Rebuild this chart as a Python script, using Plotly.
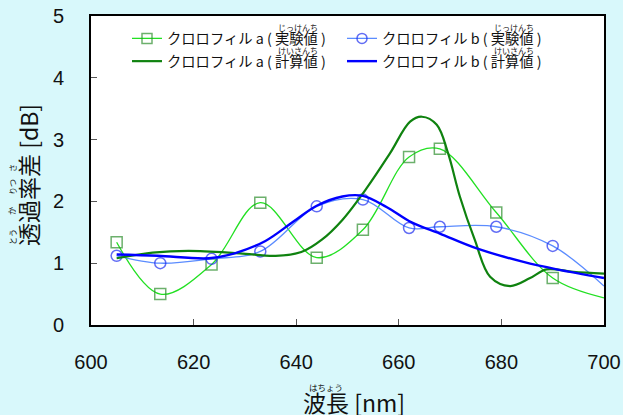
import plotly.graph_objects as go

# ---- data ----
wl_exp = [605, 613.5, 623.5, 633, 644, 653, 662, 668, 679, 690, 700]
chl_a_exp = [1.34, 0.50, 0.98, 1.98, 1.09, 1.54, 2.72, 2.85, 1.82, 0.76, 0.44]
chl_b_exp = [1.12, 1.00, 1.07, 1.19, 1.92, 2.03, 1.57, 1.59, 1.59, 1.28, 0.63]
marker_shown = [True] * 10 + [False]   # last point (700 nm) is the line end only

wl_calc_a = [605, 612, 619, 629, 636, 641, 645, 649, 653.7, 658.3, 662.2, 664.5,
             667.4, 669.6, 671.9, 674.8, 677.8, 681.7, 685.6, 688.8, 694, 700]
chl_a_calc = [1.08, 1.17, 1.20, 1.16, 1.12, 1.18, 1.38, 1.70, 2.21, 2.78, 3.29, 3.37,
              3.24, 2.78, 2.08, 1.38, 0.78, 0.63, 0.76, 0.90, 0.86, 0.83]

wl_calc_b = [605, 613, 623, 628, 634, 639.4, 644, 649, 653, 657.6, 662.5, 668,
             675.2, 684.3, 690.8, 700]
chl_b_calc = [1.14, 1.12, 1.08, 1.16, 1.36, 1.67, 1.93, 2.08, 2.09, 1.91, 1.66, 1.48,
              1.24, 1.02, 0.90, 0.76]

x_ticks = [600, 620, 640, 660, 680, 700]
y_ticks = [0, 1, 2, 3, 4, 5]

names = ["クロロフィル a ( 実験値 )", "クロロフィル b ( 実験値 )",
         "クロロフィル a ( 計算値 )", "クロロフィル b ( 計算値 )"]

JP = "Noto Sans CJK JP"
LAT = "Liberation Sans"

# plot area geometry in pixels (for annotations)
W, H = 623, 415
L, R, T, B = 91, 604, 16, 325


def px(xp):
    return (xp - L) / (R - L)


def py(yp):
    return (B - yp) / (B - T)


def leg(t):
    return "<span style='font-size:14.3px'>" + t + "</span>"


fig = go.Figure()

sizes = [11 if s else 0 for s in marker_shown]

fig.add_trace(go.Scatter(
    x=wl_exp, y=chl_a_exp, mode="lines+markers", name=leg(names[0]),
    line=dict(color="#22e022", width=1.3, shape="spline", smoothing=1.0),
    marker=dict(symbol="square-open", size=sizes, color="#2e8f2e",
                line=dict(width=1.5, color="#2e8f2e")),
))
fig.add_trace(go.Scatter(
    x=wl_exp, y=chl_b_exp, mode="lines+markers", name=leg(names[1]),
    line=dict(color="#5b8cff", width=1.3, shape="spline", smoothing=1.0),
    marker=dict(symbol="circle-open", size=sizes, color="#1f2ff0",
                line=dict(width=1.5, color="#1f2ff0")),
))
fig.add_trace(go.Scatter(
    x=wl_calc_a, y=chl_a_calc, mode="lines", name=leg(names[2]),
    line=dict(color="#0f820f", width=2.2, shape="spline", smoothing=1.0),
))
fig.add_trace(go.Scatter(
    x=wl_calc_b, y=chl_b_calc, mode="lines", name=leg(names[3]),
    line=dict(color="#0000ff", width=2.4, shape="spline", smoothing=1.0),
))

ann = []
# axis titles
ann.append(dict(text="波長 [nm]", x=px(354), y=py(402), xref="paper", yref="paper",
                showarrow=False, xanchor="center", yanchor="middle",
                font=dict(family=JP, size=23, color="#111")))
ann.append(dict(text="はちょう", x=px(326), y=py(386.5), xref="paper", yref="paper",
                showarrow=False, xanchor="center", yanchor="middle",
                font=dict(family=JP, size=8.5, color="#111")))
ann.append(dict(text="透過率差 [dB]", x=px(28), y=py(175), xref="paper", yref="paper",
                showarrow=False, xanchor="center", yanchor="middle", textangle=-90,
                font=dict(family=JP, size=23, color="#111")))
for t, yy in [("とう", 237), ("か", 211), ("りつ", 187), ("さ", 168)]:
    ann.append(dict(text=t, x=px(12), y=py(yy), xref="paper", yref="paper",
                    showarrow=False, xanchor="center", yanchor="middle", textangle=-90,
                    font=dict(family=JP, size=8, color="#111")))
# legend furigana
for t, xx, yy in [("じっけんち", 297.5, 27), ("じっけんち", 513.5, 27),
                  ("けいさんち", 297.5, 50), ("けいさんち", 513.5, 50)]:
    ann.append(dict(text=t, x=px(xx), y=py(yy), xref="paper", yref="paper",
                    showarrow=False, xanchor="center", yanchor="middle",
                    font=dict(family=JP, size=8, color="#111")))

fig.update_layout(
    width=W, height=H,
    margin=dict(l=L, r=W - R, t=T, b=H - B, autoexpand=False),
    paper_bgcolor="#d8f8fb",
    plot_bgcolor="white",
    showlegend=True,
    legend=dict(
        orientation="h", x=px(127), y=py(22), xanchor="left", yanchor="top",
        entrywidth=170, entrywidthmode="pixels",
        font=dict(family=JP, size=15.2, color="#111"),
        bgcolor="rgba(0,0,0,0)", traceorder="normal",
    ),
    annotations=ann,
    xaxis=dict(
        range=[600, 700], tickvals=x_ticks, ticktext=[str(v) for v in x_ticks],
        ticks="inside", ticklen=6, tickcolor="#555", tickwidth=1,
        showline=True, linecolor="black", linewidth=2, mirror=True,
        showgrid=False, zeroline=False, ticklabelstandoff=18, automargin=False,
        tickfont=dict(family=LAT, size=20, color="#111"),
    ),
    yaxis=dict(
        range=[0, 5], tickvals=y_ticks, ticktext=[str(v) for v in y_ticks],
        ticks="inside", ticklen=6, tickcolor="#555", tickwidth=1,
        showline=True, linecolor="black", linewidth=2, mirror=True,
        showgrid=False, zeroline=False, ticklabelstandoff=21, automargin=False,
        tickfont=dict(family=LAT, size=20, color="#111"),
    ),
)

fig.write_html("out.html", config={"displayModeBar": False},
               post_script="document.body.style.margin='0px';")
